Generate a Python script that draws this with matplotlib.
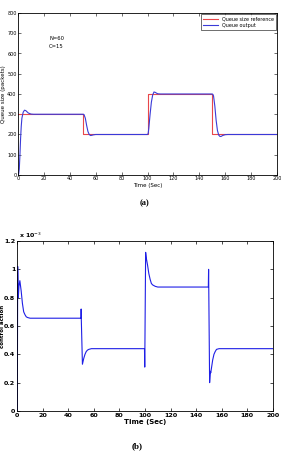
import matplotlib
matplotlib.use("Agg")
import matplotlib.pyplot as plt

# --- data ---
ref_t = [0, 50, 50, 100, 100, 150, 150, 200]
ref_q = [300, 300, 200, 200, 400, 400, 200, 200]

queue_t = [0, 0.5, 1, 1.5, 2, 2.5, 3, 4, 5, 6, 7, 8, 10, 12,
           50, 50.5, 51, 52, 53, 54, 55, 56, 57, 58, 60, 62,
           100, 100.5, 101, 102, 103, 104, 105, 106, 107, 108, 110, 112,
           150, 150.5, 151, 152, 153, 154, 155, 156, 157, 158, 160, 162, 200]
queue_q = [0, 5, 30, 100, 180, 240, 280, 310, 320, 318, 312, 306, 301, 300,
           300, 300, 298, 280, 245, 215, 200, 195, 196, 198, 200, 200,
           200, 205, 230, 300, 360, 395, 410, 408, 404, 401, 400, 400,
           400, 398, 390, 340, 270, 220, 197, 190, 191, 195, 199, 200, 200]

ctrl_t = [0, 0.3, 0.8, 1.3, 2, 3, 4, 5, 6, 7, 8, 10, 12,
          49.9, 50.0, 50.1, 51, 52, 53, 54, 55, 56, 58, 60,
          99.6, 99.8, 100.5, 101, 102, 103, 104, 105, 106, 108, 110,
          149.6, 149.8, 150.6, 151.2, 151.5, 152, 153, 154, 155, 156, 158, 160, 200]
ctrl_e3 = [0, 1.02, 0.80, 0.88, 0.92, 0.85, 0.76, 0.70, 0.68, 0.665, 0.66, 0.655, 0.655,
           0.655, 0.72, 0.655, 0.33, 0.37, 0.40, 0.42, 0.43, 0.435, 0.44, 0.44,
           0.44, 0.31, 1.12, 1.08, 1.03, 0.97, 0.93, 0.90, 0.89, 0.88, 0.875,
           0.875, 1.00, 0.20, 0.28, 0.27, 0.30, 0.36, 0.40, 0.42, 0.435, 0.44, 0.44, 0.44]

xticks = list(range(0, 201, 20))
q_yticks = list(range(0, 801, 100))
c_yticks = [0, 0.2, 0.4, 0.6, 0.8, 1, 1.2]

fig = plt.figure(figsize=(2.81, 4.51), dpi=100)
W, H = 281, 451

# --- top chart ---
ax1 = fig.add_axes([18 / W, 1 - 175 / H, 259 / W, 162 / H])
ax1.plot(ref_t, ref_q, color="#e8474a", lw=0.8, label="Queue size reference")
ax1.plot(queue_t, queue_q, color="#3a3ad8", lw=0.8, label="Queue output")
ax1.set_xlim(0, 200)
ax1.set_ylim(0, 800)
ax1.set_xticks(xticks)
ax1.set_yticks(q_yticks)
ax1.tick_params(direction="in", top=True, right=True, labelsize=3.5, length=2, width=0.4, pad=1)
for s in ax1.spines.values():
    s.set_linewidth(0.6)
ax1.set_xlabel("Time (Sec)", fontsize=4, labelpad=1)
ax1.set_ylabel("Queue size (packets)", fontsize=4, labelpad=1)
ax1.text(24, 665, "N=60", fontsize=3.8)
ax1.text(24, 625, "C=15", fontsize=3.8)
leg = ax1.legend(loc="upper right", fontsize=3.5, frameon=True, fancybox=False,
                 edgecolor="black", handlelength=3, borderpad=0.4, labelspacing=0.3,
                 borderaxespad=0.3)
leg.get_frame().set_linewidth(0.5)
fig.text(145 / W, 1 - 203 / H, "(a)", fontsize=6, fontweight="bold", ha="center", va="center",
         family="Liberation Serif")

# --- bottom chart ---
ax2 = fig.add_axes([17.3 / W, 1 - 411 / H, 255.4 / W, 170 / H])
ax2.plot(ctrl_t, ctrl_e3, color="#1f1fe6", lw=0.8)
ax2.set_xlim(0, 200)
ax2.set_ylim(0, 1.2)
ax2.set_xticks(xticks)
ax2.set_yticks(c_yticks)
ax2.set_yticklabels(["0", "0.2", "0.4", "0.6", "0.8", "1", "1.2"])
ax2.tick_params(direction="in", top=True, right=True, labelsize=4.6, length=2, width=0.5, pad=1.5)
for lab in ax2.get_xticklabels() + ax2.get_yticklabels():
    lab.set_fontweight("bold")
for s in ax2.spines.values():
    s.set_linewidth(0.6)
ax2.set_xlabel("Time (Sec)", fontsize=5, fontweight="bold", labelpad=1)
fig.text(2.6 / W, 1 - 326 / H, "control action", fontsize=4, fontweight="bold",
         rotation=90, ha="center", va="center")
ax2.text(0.005, 1.005, r"x 10$^{-3}$", transform=ax2.transAxes, fontsize=4.5,
         fontweight="bold", va="bottom")
fig.text(137 / W, 1 - 446 / H, "(b)", fontsize=6.5, fontweight="bold", ha="center", va="center",
         family="Liberation Serif")

fig.savefig("out.png", dpi=100)
